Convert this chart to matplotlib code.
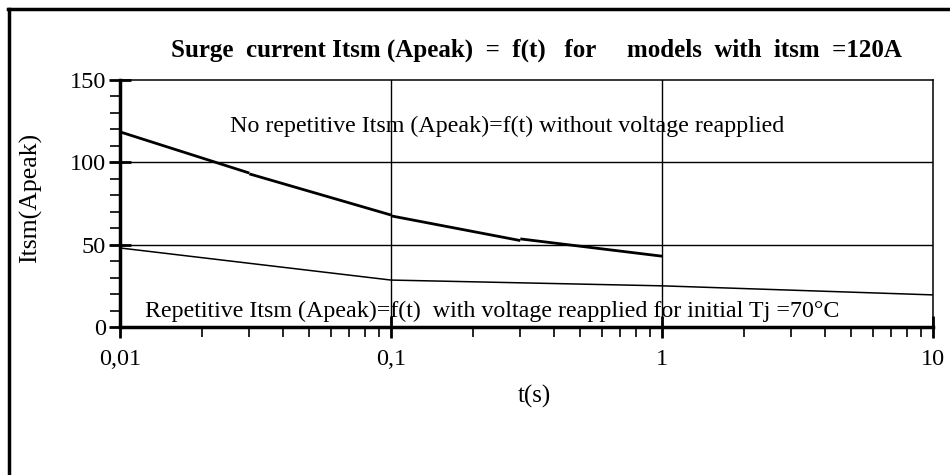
import matplotlib
matplotlib.use("Agg")
import matplotlib.pyplot as plt
from matplotlib.lines import Line2D
from matplotlib.ticker import FixedLocator, FixedFormatter, MultipleLocator, LogLocator, NullFormatter

plt.rcParams['font.family'] = ['Liberation Serif', 'DejaVu Serif']

# Non-repetitive surge (thick line), drawn as segments with small steps
seg_t = [[0.01, 0.03], [0.03, 0.1], [0.1, 0.3], [0.3, 1.0]]
seg_i = [[118.5, 93.5], [93.0, 68.0], [67.5, 52.5], [53.5, 43.0]]

# Repetitive surge (thin line)
rep_t = [0.01, 0.1, 1.0, 10.0]
rep_i = [48.0, 28.5, 25.0, 19.5]

xtick_vals = [0.01, 0.1, 1, 10]
xtick_labels = ["0,01", "0,1", "1", "10"]
ytick_vals = [0, 50, 100, 150]

title = "Surge  current Itsm (Apeak)  =  f(t)   for     models  with  itsm  =120A"
txt_norep = "No repetitive Itsm (Apeak)=f(t) without voltage reapplied"
txt_rep = "Repetitive Itsm (Apeak)=f(t)  with voltage reapplied for initial Tj =70°C"

fig = plt.figure(figsize=(9.5, 4.75), dpi=100)
W, H = 950, 475
ax = fig.add_axes([120 / W, 1 - 327 / H, (933 - 120) / W, (327 - 80) / H])

ax.set_xscale('log')
ax.set_xlim(0.01, 10)
ax.set_ylim(0, 150)

# grid
for yv in [50, 100]:
    ax.axhline(yv, color='black', lw=1.0, zorder=1)
for xv in [0.1, 1]:
    ax.axvline(xv, color='black', lw=1.0, zorder=1)

for t, i in zip(seg_t, seg_i):
    ax.plot(t, i, color='black', lw=2.0, solid_capstyle='butt', zorder=3)
ax.plot(rep_t, rep_i, color='black', lw=1.1, zorder=3)

ax.xaxis.set_major_locator(FixedLocator(xtick_vals))
ax.xaxis.set_major_formatter(FixedFormatter(xtick_labels))
ax.xaxis.set_minor_locator(LogLocator(base=10, subs=range(2, 10)))
ax.xaxis.set_minor_formatter(NullFormatter())
ax.yaxis.set_major_locator(FixedLocator(ytick_vals))
ax.yaxis.set_minor_locator(MultipleLocator(10))

ax.tick_params(axis='both', which='major', direction='inout', length=16, width=2,
               labelsize=17.5, colors='black')
ax.tick_params(axis='both', which='minor', direction='out', length=7, width=1.2)
ax.tick_params(axis='x', which='major', pad=8)
ax.tick_params(axis='y', which='major', pad=2)

ax.spines['left'].set_linewidth(2.5)
ax.spines['bottom'].set_linewidth(2.5)
ax.spines['top'].set_linewidth(1.1)
ax.spines['right'].set_linewidth(1.1)

fig.text(230 / W, 1 - 126 / H, txt_norep, fontsize=17.3, ha='left', va='center')
fig.text(145 / W, 1 - 311 / H, txt_rep, fontsize=17.3, ha='left', va='center')

fig.text(536 / W, 1 - 50 / H, title, fontsize=18, fontweight='bold',
         ha='center', va='center')
fig.text(534 / W, 1 - 396 / H, "t(s)", fontsize=18, ha='center', va='center')
fig.text(30 / W, 1 - 198 / H, "Itsm(Apeak)", fontsize=18.5, ha='center', va='center',
         rotation=90)

# outer frame (left and top edges)
fig.add_artist(Line2D([9 / W, 9 / W], [0, 1 - 9 / H], transform=fig.transFigure,
                      color='black', lw=2.5))
fig.add_artist(Line2D([8 / W, 1], [1 - 9 / H, 1 - 9 / H], transform=fig.transFigure,
                      color='black', lw=2.5))

fig.savefig("out.png", dpi=100)
